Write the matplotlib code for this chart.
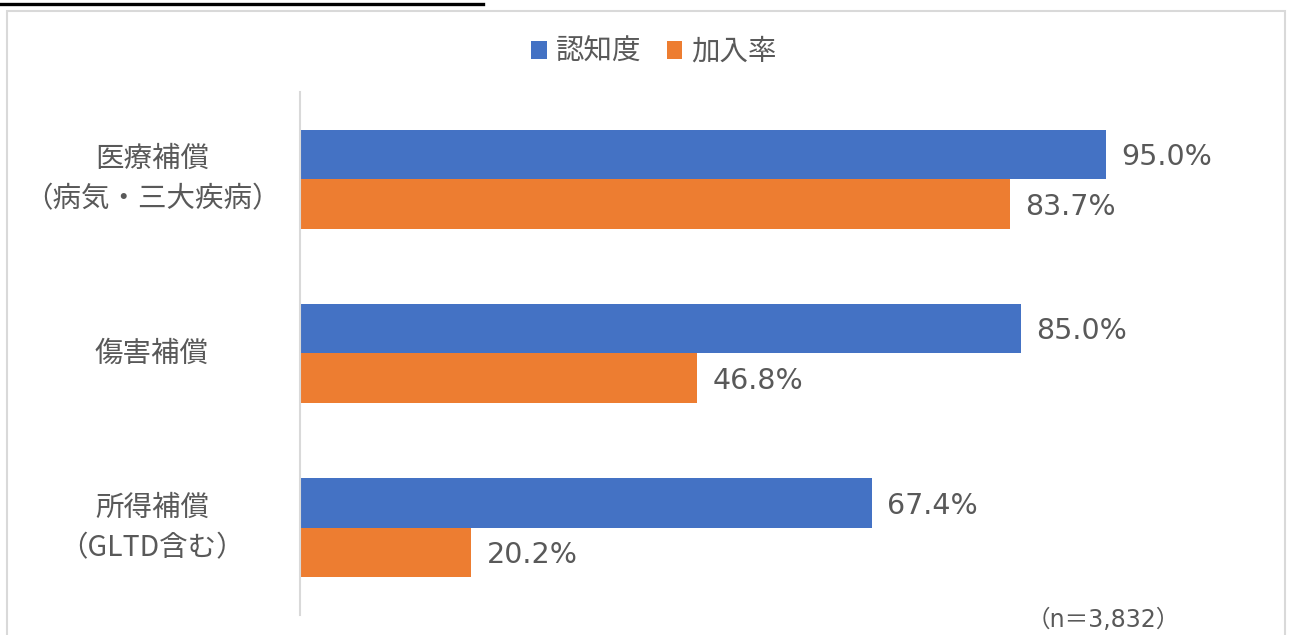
import matplotlib
matplotlib.use("Agg")
import matplotlib.pyplot as plt
from matplotlib.lines import Line2D
from matplotlib.patches import Rectangle
import numpy as np

plt.rcParams["font.family"] = ["Noto Sans CJK JP", "DejaVu Sans"]

# データ
categories = ["医療補償\n（病気・三大疾病）", "傷害補償", "所得補償\n（GLTD含む）"]
awareness = [95.0, 85.0, 67.4]    # 認知度
enrollment = [83.7, 46.8, 20.2]   # 加入率
series_names = ["認知度", "加入率"]
note = "（n＝3,832）"

BLUE = "#4472C4"
ORANGE = "#ED7D31"
TEXT = "#595959"
NUM_FONT = ["DejaVu Sans", "Noto Sans CJK JP"]

W, H = 1290, 635
fig = plt.figure(figsize=(W / 100, H / 100), dpi=100)

# 枠線と上の黒い線
fig.add_artist(Rectangle((7 / W, -0.05), (1285 - 7) / W, 1.05 - 11 / H,
                         transform=fig.transFigure, fill=False,
                         edgecolor="#D9D9D9", linewidth=1.5))
fig.add_artist(Line2D([0, 483 / W], [1 - 4 / H, 1 - 4 / H],
                      transform=fig.transFigure, color="black", linewidth=2.4))

ax = fig.add_axes([300 / W, 1 - 615 / H, 848 / W, (615 - 92) / H])

y = np.arange(len(categories))
h = 0.284
b1 = ax.barh(y - h / 2, awareness, height=h, color=BLUE, label=series_names[0])
b2 = ax.barh(y + h / 2, enrollment, height=h, color=ORANGE, label=series_names[1])

for bars, vals in ((b1, awareness), (b2, enrollment)):
    for bar, v in zip(bars, vals):
        ax.text(v + 1.8, bar.get_y() + bar.get_height() / 2 + 0.015, f"{v:.1f}%",
                va="center", ha="left", fontsize=20.5, color=TEXT,
                family=NUM_FONT)

ax.set_xlim(0, 100)
ax.set_ylim(2.5, -0.5)
ax.set_xticks([])
ax.set_yticks([])
for s in ("top", "right", "bottom"):
    ax.spines[s].set_visible(False)
ax.spines["left"].set_color("#D9D9D9")
ax.spines["left"].set_linewidth(1.5)

trans = ax.get_yaxis_transform()
for yi, cat in zip(y, categories):
    ax.text(-148 / 848, yi, cat, transform=trans, ha="center", va="center",
            fontsize=20.5, color=TEXT, linespacing=1.45)

leg = fig.legend(handles=[b1, b2], labels=series_names, loc="center",
                 bbox_to_anchor=(654 / W, 1 - 52 / H), ncol=2, frameon=False,
                 fontsize=20.5, handlelength=0.55, handleheight=0.55,
                 handletextpad=0.3, columnspacing=0.9)
for t in leg.get_texts():
    t.set_color(TEXT)

fig.text(1103 / W, 1 - 620 / H, note, ha="center", va="center",
         fontsize=17, color=TEXT, family=NUM_FONT)

fig.savefig("out.png", dpi=100)
